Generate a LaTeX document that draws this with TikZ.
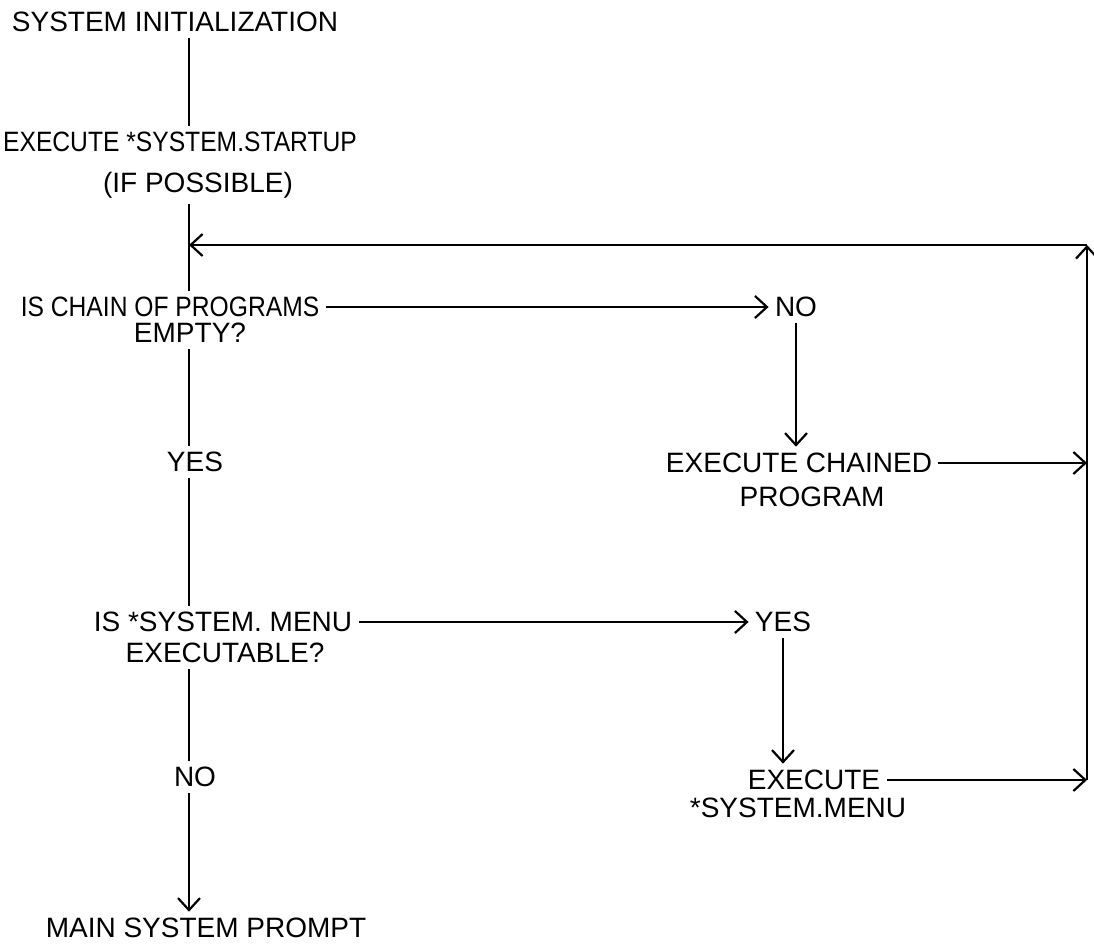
\documentclass[tikz,border=0pt]{standalone}
\usepackage{fontspec}
\setmainfont{Liberation Sans}
\newfontfamily\narrowfont[FakeStretch=0.88]{Liberation Sans}
\usetikzlibrary{arrows.meta}

\begin{document}
\begin{tikzpicture}[x=0.5pt,y=-0.5pt,
    every node/.style={font=\fontsize{14}{16}\selectfont, inner sep=3pt},
    narrow/.style={font=\fontsize{14}{16}\narrowfont},
    line/.style={line width=1pt},
    flow/.style={line, -{Straight Barb[length=6pt,width=11pt,line width=1.1pt]}}]
  \useasboundingbox (0,0) rectangle (1094,947);
  \coordinate (spine) at (189,0);
  \coordinate (loop) at (189,245);
  \coordinate (railtop) at (1087,245);

  % main column
  \node (init) at (175,22) {SYSTEM INITIALIZATION};
  \node[narrow] (startup) at (180,142) {EXECUTE *SYSTEM.STARTUP};
  \node (startupb) at (198,185) {(IF POSSIBLE)};
  \node[narrow] (chain) at (170,307) {IS CHAIN OF PROGRAMS};
  \node (chainb) at (190,333) {EMPTY?};
  \node (yes1) at (195,462) {YES};
  \node (menuq) at (223,622) {IS *SYSTEM. MENU};
  \node (menuqb) at (225,653) {EXECUTABLE?};
  \node (no2) at (195,777) {NO};
  \node (prompt) at (206,928) {MAIN SYSTEM PROMPT};

  % right column
  \node (no1) at (796,307) {NO};
  \node (chained) at (799,463) {EXECUTE CHAINED};
  \node (chainedb) at (812,497) {PROGRAM};
  \node (yes2) at (783,622) {YES};
  \node (menuexec) at (814,780) {EXECUTE};
  \node (menuexecb) at (798,808) {*SYSTEM.MENU};

  \draw[line] (init.south -| spine) -- (startup.north -| spine);
  \draw[line] (startupb.south -| spine) -- (chain.north -| spine);
  \draw[line] (chainb.south -| spine) -- (yes1.north -| spine);
  \draw[line] (yes1.south -| spine) -- (menuq.north -| spine);
  \draw[line] (menuqb.south -| spine) -- (no2.north -| spine);
  \draw[flow] (no2.south -| spine) -- (prompt.north -| spine);

  \draw[flow] (chain.east) -- (no1.west);
  \draw[flow] (no1.south) -- (no1.south |- chained.north);
  \draw[flow] (menuq.east) -- (yes2.west);
  \draw[flow] (yes2.south) -- (yes2.south |- menuexec.north);

  % loop back
  \draw[flow] (chained.east) -- (chained.east -| railtop);
  \draw[flow] (menuexec.east) -- (menuexec.east -| railtop);
  \draw[flow] (menuexec.east -| railtop) -- (railtop);
  \draw[flow] (railtop) -- (loop);
\end{tikzpicture}
\end{document}
